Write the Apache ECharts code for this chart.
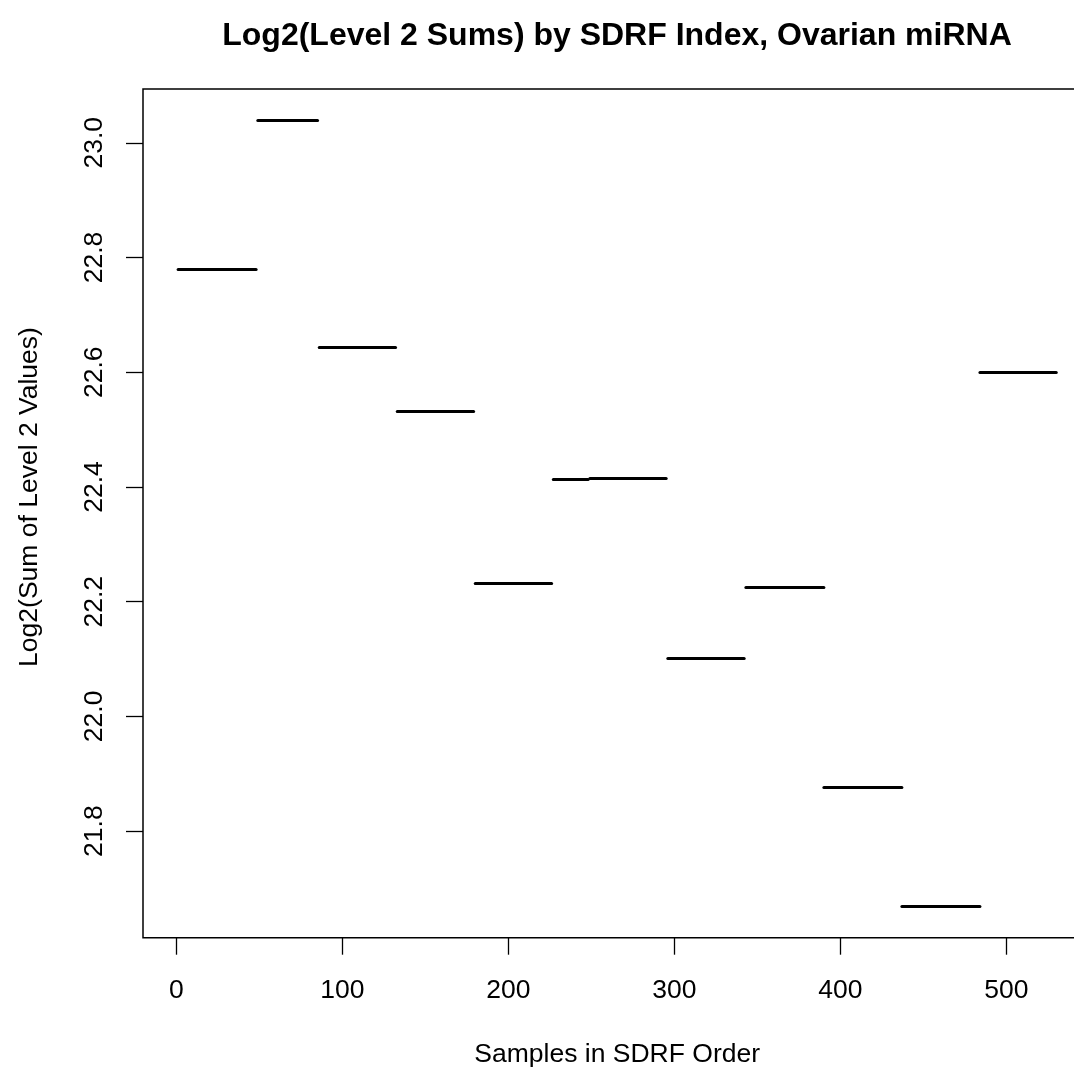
<!DOCTYPE html>
<html>
<head>
<meta charset="utf-8">
<script src="https://cdn.jsdelivr.net/npm/echarts@6/dist/echarts.min.js"></script>
<style>
html,body{margin:0;padding:0;background:#fff;}
#chart{width:1074px;height:1070px;}
</style>
</head>
<body>
<div id="chart"></div>
<script>
// Batch segments: sample index range and log2 level-2 sum
const segStart = [1, 49, 86, 133, 180, 227, 249, 296, 343, 390, 437, 484];
const segEnd   = [48, 85, 132, 179, 226, 248, 295, 342, 390, 437, 484, 530];
const segValue = [22.780, 23.039, 22.643, 22.532, 22.232, 22.413, 22.416, 22.101, 22.225, 21.877, 21.669, 22.600];
const xTicks = [0, 100, 200, 300, 400, 500];
const yTicks = [21.8, 22.0, 22.2, 22.4, 22.6, 22.8, 23.0];

const titleText = 'Log2(Level 2 Sums) by SDRF Index, Ovarian miRNA';
const xLabel = 'Samples in SDRF Order';
const yLabel = 'Log2(Sum of Level 2 Values)';

const FONT = '"Liberation Sans", Arial, Helvetica, sans-serif';

// R-style 4% axis extension
const xMinD = 1, xMaxD = 530;
const xPad = (xMaxD - xMinD) * 0.04;
const yMinD = Math.min(...segValue), yMaxD = Math.max(...segValue);
const yPad = (yMaxD - yMinD) * 0.04;

const chart = echarts.init(document.getElementById('chart'), null, {renderer: 'canvas'});

const lineData = segStart.map((s, i) => ({coords: [[s, segValue[i]], [segEnd[i], segValue[i]]]}));

chart.setOption({
  animation: false,
  backgroundColor: '#fff',
  grid: {
    left: 143, top: 89, right: -17.4, bottom: 132.3,
    containLabel: false,
    outerBoundsMode: 'none',
    show: true, borderColor: '#000', borderWidth: 1.5, backgroundColor: 'transparent'
  },
  xAxis: {
    type: 'value',
    min: xMinD - xPad, max: xMaxD + xPad,
    name: xLabel,
    nameLocation: 'middle',
    nameGap: 103,
    nameTextStyle: {fontFamily: FONT, fontSize: 26.5, color: '#000'},
    axisLine: {show: false, onZero: false},
    splitLine: {show: false},
    axisTick: {show: true, length: 17, lineStyle: {color: '#000', width: 1.3}, customValues: xTicks},
    axisLabel: {color: '#000', fontFamily: FONT, fontSize: 26.5, margin: 39, customValues: xTicks,
      formatter: v => String(v)}
  },
  yAxis: {
    type: 'value',
    min: yMinD - yPad, max: yMaxD + yPad,
    axisLine: {show: false, onZero: false},
    splitLine: {show: false},
    axisTick: {show: true, length: 17, lineStyle: {color: '#000', width: 1.3}, customValues: yTicks},
    axisLabel: {color: '#000', fontFamily: FONT, fontSize: 26.5, margin: 35, rotate: 90, customValues: yTicks,
      formatter: v => v.toFixed(1)}
  },
  graphic: [
    {type: 'text', x: 617, y: 36, style: {text: titleText, fontFamily: FONT, fontSize: 32, fontWeight: 'bold', fill: '#000', textAlign: 'center', textVerticalAlign: 'middle'}},
    {type: 'text', x: 30, y: 497, rotation: Math.PI / 2, style: {text: yLabel, fontFamily: FONT, fontSize: 26.5, fill: '#000', textAlign: 'center', textVerticalAlign: 'middle'}}
  ],
  series: [{
    type: 'lines',
    coordinateSystem: 'cartesian2d',
    polyline: false,
    silent: true,
    lineStyle: {color: '#000', width: 3, opacity: 1, cap: 'round'},
    data: lineData
  }]
});
</script>
</body>
</html>
